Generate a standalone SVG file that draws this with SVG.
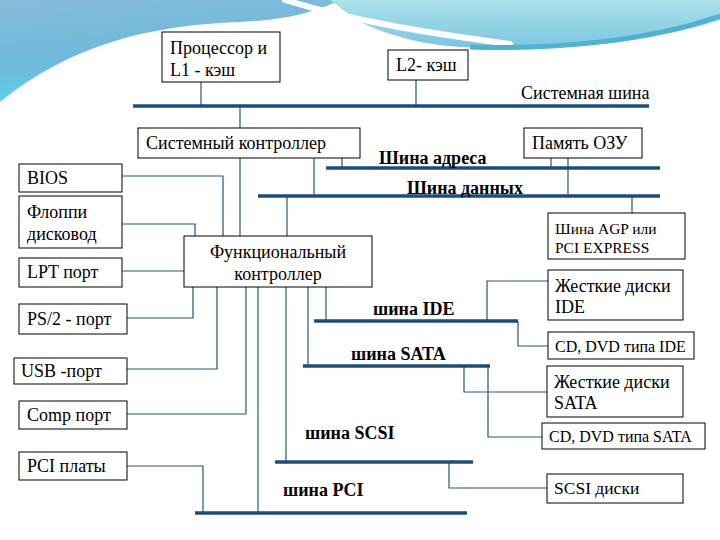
<svg xmlns="http://www.w3.org/2000/svg" width="720" height="540" viewBox="0 0 720 540">
<defs>
<linearGradient id="gl" x1="0" y1="0" x2="0.3" y2="1">
<stop offset="0" stop-color="#86bcd8"/>
<stop offset="0.6" stop-color="#6fb9dc"/>
<stop offset="1" stop-color="#56d6ea"/>
</linearGradient>
<linearGradient id="gr" x1="0" y1="0" x2="0" y2="1">
<stop offset="0" stop-color="#ace2ea"/>
<stop offset="1" stop-color="#7cc4e2"/>
</linearGradient>
<style>
.box{fill:#fff;stroke:#000;stroke-width:1}
.t{font-size:18px;fill:#000}
.s{font-size:16px}
.m{font-size:17.5px}
.xs{font-size:15.5px}
.b{font-size:18px;font-weight:bold;fill:#000}
.bus{stroke:#1b4d7a;stroke-width:3.5;fill:none}
.c{stroke:#24577f;stroke-width:1.2;fill:none}
</style>
</defs>
<rect width="720" height="540" fill="#fff"/>
<g id="background">
<path d="M0,0 H340 C320,10 290,20 240,22 C150,25 70,45 0,102 Z" fill="url(#gl)"/>
<path d="M330,0 H720 V20 C650,42 560,52 480,48 C430,46 400,40 360,22 C348,14 338,6 330,0 Z" fill="url(#gr)"/>
<path d="M285,0 C350,20 420,32 510,44" stroke="#fff" stroke-width="6" fill="none" stroke-linecap="round"/>
<path d="M470,47 C560,50 650,40 720,16" stroke="#4fb2d2" stroke-width="5" fill="none"/>
</g>
<g id="connectors">
<path class="c" d="M201,82 V106"/>
<path class="c" d="M416,80 V106"/>
<path class="c" d="M240,106 V128"/>
<path class="c" d="M240,158 V236"/>
<path class="c" d="M342,158 V168"/>
<path class="c" d="M314,158 V196"/>
<path class="c" d="M551,158 V168"/>
<path class="c" d="M568,158 V196"/>
<path class="c" d="M632,196 V213"/>
<path class="c" d="M287,196 V236"/>
<path class="c" d="M122,176 H223 V236"/>
<path class="c" d="M122,224 H195 V236"/>
<path class="c" d="M122,271 H184"/>
<path class="c" d="M127,318 H193 V287"/>
<path class="c" d="M127,369 H217 V287"/>
<path class="c" d="M127,414 H246 V287"/>
<path class="c" d="M258,287 V513"/>
<path class="c" d="M286,287 V462"/>
<path class="c" d="M308,287 V366"/>
<path class="c" d="M326,287 V321"/>
<path class="c" d="M487,321 V281 H548"/>
<path class="c" d="M518,321 V346 H548"/>
<path class="c" d="M464,366 V392 H547"/>
<path class="c" d="M488,366 V437 H542"/>
<path class="c" d="M449,462 V488 H547"/>
<path class="c" d="M127,466 H203 V513"/>
<path class="bus" d="M133,106 H649"/>
<path class="bus" d="M326,168 H660"/>
<path class="bus" d="M258,196 H660"/>
<path class="bus" d="M314,321 H518"/>
<path class="bus" d="M303,366 H490"/>
<path class="bus" d="M275,462 H473"/>
<path class="bus" d="M195,513 H467"/>
</g>
<g font-family="'Liberation Serif', 'DejaVu Serif', 'Times New Roman', serif">
<g id="labels">
<text class="t" x="521" y="99" font-size="20">Системная шина</text>
<text class="b" x="379" y="164" font-size="19">Шина адреса</text>
<text class="b" x="407" y="194">Шина данных</text>
<text class="b" x="373" y="315">шина IDE</text>
<text class="b" x="351" y="360">шина SATA</text>
<text class="b" x="305" y="439">шина SCSI</text>
<text class="b" x="283" y="496">шина PCI</text>
</g>
<g id="cpu"><rect class="box" x="162" y="32" width="118" height="50"/><text class="t" x="170" y="54">Процессор и</text><text class="t" x="170" y="76">L1 - кэш</text></g>
<g id="l2"><rect class="box" x="388" y="50" width="80" height="30"/><text class="t" x="396" y="71">L2- кэш</text></g>
<g id="sysctrl"><rect class="box" x="138" y="128" width="222" height="30"/><text class="t" x="146" y="149">Системный контроллер</text></g>
<g id="ram"><rect class="box" x="524" y="128" width="118" height="30"/><text class="t" x="532" y="149">Память ОЗУ</text></g>
<g id="bios"><rect class="box" x="19" y="164" width="103" height="28"/><text class="t" x="27" y="184">BIOS</text></g>
<g id="floppy"><rect class="box" x="19" y="196" width="103" height="52"/><text class="t" x="27" y="218">Флоппи</text><text class="t" x="27" y="240">дисковод</text></g>
<g id="lpt"><rect class="box" x="19" y="258" width="103" height="29"/><text class="t" x="27" y="278">LPT порт</text></g>
<g id="ps2"><rect class="box" x="19" y="304" width="108" height="30"/><text class="t" x="27" y="325">PS/2 - порт</text></g>
<g id="usb"><rect class="box" x="14" y="358" width="113" height="26"/><text class="t" x="21" y="377">USB -порт</text></g>
<g id="comp"><rect class="box" x="19" y="401" width="108" height="28"/><text class="t" x="27" y="421">Comp порт</text></g>
<g id="pcicards"><rect class="box" x="19" y="452" width="108" height="28"/><text class="t" x="27" y="472">PCI платы</text></g>
<g id="funcctrl"><rect class="box" x="184" y="236" width="188" height="51"/><text class="t" x="278" y="258" text-anchor="middle">Функциональный</text><text class="t" x="278" y="280" text-anchor="middle">контроллер</text></g>
<g id="agp"><rect class="box" x="548" y="213" width="137" height="46"/><text class="t xs" x="555" y="234">Шина AGP или</text><text class="t xs" x="555" y="253">PCI EXPRESS</text></g>
<g id="hdd_ide"><rect class="box" x="548" y="270" width="135" height="50"/><text class="t" x="555" y="292">Жесткие диски</text><text class="t" x="555" y="313">IDE</text></g>
<g id="cd_ide"><rect class="box" x="548" y="332" width="146" height="27"/><text class="t s" x="555" y="352">CD, DVD типа IDE</text></g>
<g id="hdd_sata"><rect class="box" x="547" y="366" width="136" height="51"/><text class="t" x="554" y="388">Жесткие диски</text><text class="t" x="554" y="409">SATA</text></g>
<g id="cd_sata"><rect class="box" x="542" y="423" width="163" height="26"/><text class="t s" x="549" y="442">CD, DVD типа SATA</text></g>
<g id="scsi"><rect class="box" x="547" y="474" width="136" height="29"/><text class="t m" x="554" y="494">SCSI диски</text></g>
</g>
</svg>
